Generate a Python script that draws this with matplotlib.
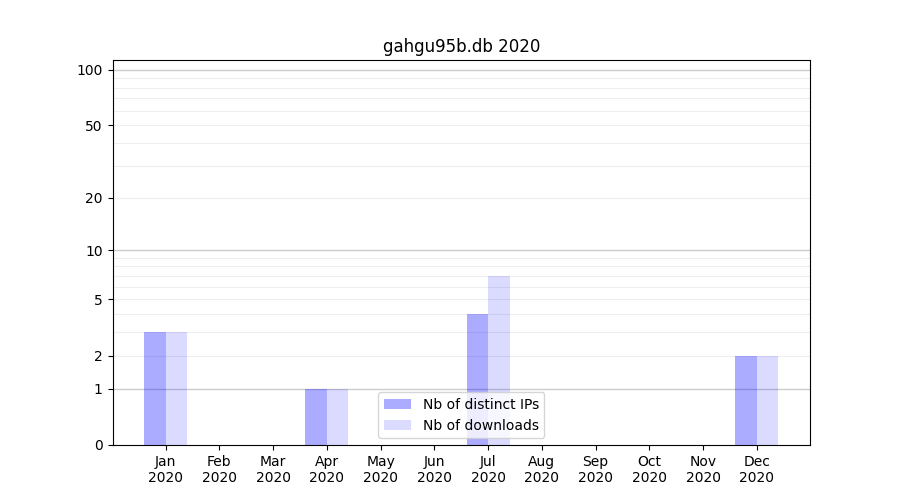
import numpy as np
import matplotlib
matplotlib.use("Agg")
import matplotlib.pyplot as plt

months = ["Jan", "Feb", "Mar", "Apr", "May", "Jun",
          "Jul", "Aug", "Sep", "Oct", "Nov", "Dec"]
year = "2020"
distinct_ips = [3, 0, 0, 1, 0, 0, 4, 0, 0, 0, 0, 2]
downloads = [3, 0, 0, 1, 0, 0, 7, 0, 0, 0, 0, 2]

y_ticks = [0, 1, 2, 5, 10, 20, 50, 100]
major_grid = [1, 10, 100]
minor_grid = [2, 3, 4, 5, 6, 7, 8, 9, 20, 30, 40, 50, 60, 70, 80, 90]


def fwd(v):
    return np.log10(1 + np.asarray(v, dtype=float))


def inv(v):
    return 10 ** np.asarray(v, dtype=float) - 1


fig, ax = plt.subplots(figsize=(9, 5), dpi=100)
ax.set_yscale("function", functions=(fwd, inv))

x = np.arange(len(months))
w = 0.4
ax.bar(x - w / 2, distinct_ips, w, color="blue", alpha=0.33, label="Nb of distinct IPs")
ax.bar(x + w / 2, downloads, w, color="blue", alpha=0.14, label="Nb of downloads")

for v in minor_grid:
    ax.axhline(v, color="#eeeeee", lw=0.8, zorder=0)
for v in major_grid:
    ax.axhline(v, color="#cccccc", lw=1.0, zorder=0)

ax.set_ylim(0, 113)
ax.set_xlim(-0.99, 11.99)
ax.set_yticks(y_ticks)
ax.set_yticklabels([str(t) for t in y_ticks])
ax.yaxis.set_minor_locator(matplotlib.ticker.NullLocator())
ax.set_xticks(x)
ax.set_xticklabels([f"{m}\n{year}" for m in months])

ax.set_title("gahgu95b.db 2020")
ax.legend(loc="lower center")

fig.savefig("out.png", dpi=100)
